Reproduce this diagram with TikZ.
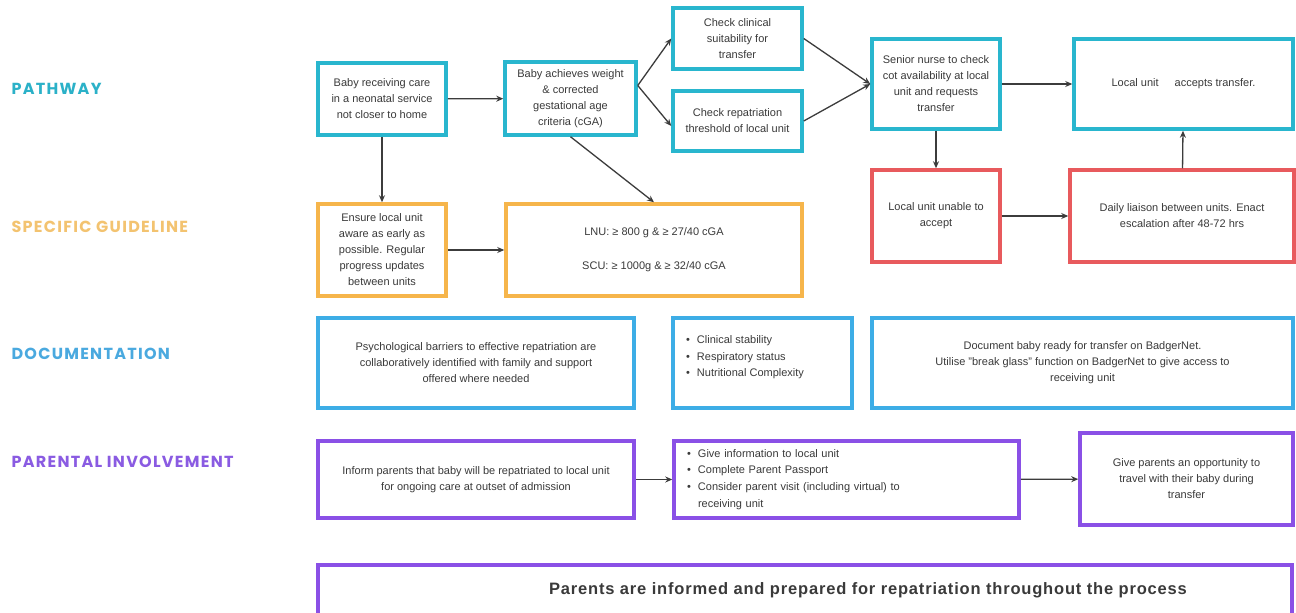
\documentclass[tikz,border=0pt]{standalone}
\usepackage{fontspec}
\setmainfont{Liberation Sans}
\newfontfamily\headfont[LetterSpace=8]{Poppins}
\newfontfamily\widefont[LetterSpace=5]{Liberation Sans}
\usetikzlibrary{arrows.meta}
\definecolor{pathcyan}{HTML}{29B6CE}
\definecolor{guideorange}{HTML}{F6B54B}
\definecolor{escalred}{HTML}{E85A5D}
\definecolor{docblue}{HTML}{3DADE6}
\definecolor{parentpurple}{HTML}{8A50E6}
\definecolor{pathlabel}{HTML}{2BB1C8}
\definecolor{guidelabel}{HTML}{F3C370}
\definecolor{doclabel}{HTML}{4AA9DF}
\definecolor{parentlabel}{HTML}{8A5BE2}
\definecolor{textgrey}{HTML}{3A3A3A}
\definecolor{linegrey}{HTML}{3C3C3C}
\newcommand{\blt}{\makebox[11pt][l]{\textbullet}}

\begin{document}
\begin{tikzpicture}[x=1pt,y=-1pt,
		box/.style={draw=#1,line width=3.5pt,fill=white,align=center,text=textgrey,font=\fontsize{11}{16}\selectfont,inner sep=3pt},
		lane/.style={anchor=base west,text=#1,font=\headfont\bfseries\fontsize{16}{18}\selectfont},
		link/.style={draw=linegrey,line width=1.3pt,-{Stealth[length=7pt,width=6pt]}}]
			\useasboundingbox[fill=white] (0,0) rectangle (1296,613);
			\clip (0,0) rectangle (1296,613);

			\node[lane=pathlabel] (lpath) at (8,94) {PATHWAY};
			\node[lane=guidelabel] (lguide) at (8,232) {SPECIFIC GUIDELINE};
			\node[lane=doclabel] (ldoc) at (8,359) {DOCUMENTATION};
			\node[lane=parentlabel] (lparent) at (8,467) {PARENTAL INVOLVEMENT};

			\node[box=pathcyan,minimum width=128pt,minimum height=72pt] (baby) at (382,99) {Baby receiving care\\in a neonatal service\\not closer to home};
			\node[box=pathcyan,minimum width=131pt,minimum height=73pt] (achieve) at (570.5,98.5) {Baby achieves weight\\\& corrected\\gestational age\\criteria (cGA)};
			\node[box=pathcyan,minimum width=129pt,minimum height=61pt] (clinical) at (737.5,38.5) {Check clinical\\suitability for\\transfer};
			\node[box=pathcyan,minimum width=129pt,minimum height=60pt] (threshold) at (737.5,121) {Check repatriation\\threshold of local unit};
			\node[box=pathcyan,minimum width=128pt,minimum height=90pt] (senior) at (936,84) {Senior nurse to check\\cot availability at local\\unit and requests\\transfer};
			\node[box=pathcyan,minimum width=219pt,minimum height=90pt] (accepts) at (1183.5,84) {Local unit\hspace{16pt}accepts transfer.};
			\node[box=escalred,minimum width=128pt,minimum height=92pt] (unable) at (936,216) {Local unit unable to\\accept};
			\node[box=escalred,minimum width=224pt,minimum height=92pt] (daily) at (1182,216) {Daily liaison between units. Enact\\escalation after 48-72 hrs};

			\node[box=guideorange,minimum width=128pt,minimum height=92pt] (ensure) at (382,250) {Ensure local unit\\aware as early as\\possible. Regular\\progress updates\\between units};
			\node[box=guideorange,minimum width=296pt,minimum height=92pt] (criteria) at (654,250) {LNU: ≥ 800 g \& ≥ 27/40 cGA\\[18pt]SCU: ≥ 1000g \& ≥ 32/40 cGA};

			\node[box=docblue,minimum width=316pt,minimum height=90pt] (barriers) at (476,363) {Psychological barriers to effective repatriation are\\collaboratively identified with family and support\\offered where needed};
			\node[box=docblue,minimum width=179pt,minimum height=90pt] (stability) at (762.5,363) {\begin{minipage}[c][54pt][t]{153pt}\fontsize{11}{16.5}\selectfont\blt Clinical stability\\\blt Respiratory status\\\blt Nutritional Complexity\end{minipage}};
			\node[box=docblue,minimum width=421pt,minimum height=90pt] (badger) at (1082.5,363) {Document baby ready for transfer on BadgerNet.\\Utilise "break glass" function on BadgerNet to give access to\\receiving unit};

			\node[box=parentpurple,minimum width=316pt,minimum height=77pt] (inform) at (476,479.5) {Inform parents that baby will be repatriated to local unit\\for ongoing care at outset of admission};
			\node[box=parentpurple,minimum width=345pt,minimum height=77pt,align=left,text width=319pt,font=\fontsize{11}{16.7}\selectfont] (passport) at (846.5,479.5) {\blt Give information to local unit\\\blt Complete Parent Passport\\\blt Consider parent visit (including virtual) to\\\hspace*{11pt}receiving unit};
			\node[box=parentpurple,minimum width=213pt,minimum height=92pt] (travel) at (1186.5,479) {Give parents an opportunity to\\travel with their baby during\\transfer};
			\node[box=parentpurple,minimum width=974pt,minimum height=50pt,font=\widefont\bfseries\fontsize{16.5}{18}\selectfont] (throughout) at (805,590) {\hspace*{126pt}Parents are informed and prepared for repatriation throughout the process};

			\draw[link] (baby) -- (achieve);
			\draw[link] ([yshift=13pt]achieve.east) -- (clinical.west);
			\draw[link] ([yshift=13pt]achieve.east) -- ([yshift=-5pt]threshold.west);
			\draw[link] (clinical.east) -- (senior.west);
			\draw[link] (threshold.east) -- (senior.west);
			\draw[link] (senior) -- (accepts);
			\draw[link] (senior) -- (unable);
			\draw[link] (unable) -- (daily);
			\draw[link] (daily) -- (accepts);
			\draw[link] (baby) -- (ensure);
			\draw[link] (achieve.south) -- (criteria.north);
			\draw[link] (ensure) -- (criteria);
			\draw[link] (inform) -- (passport);
			\draw[link] (passport) -- (travel);
		\end{tikzpicture}
\end{document}
